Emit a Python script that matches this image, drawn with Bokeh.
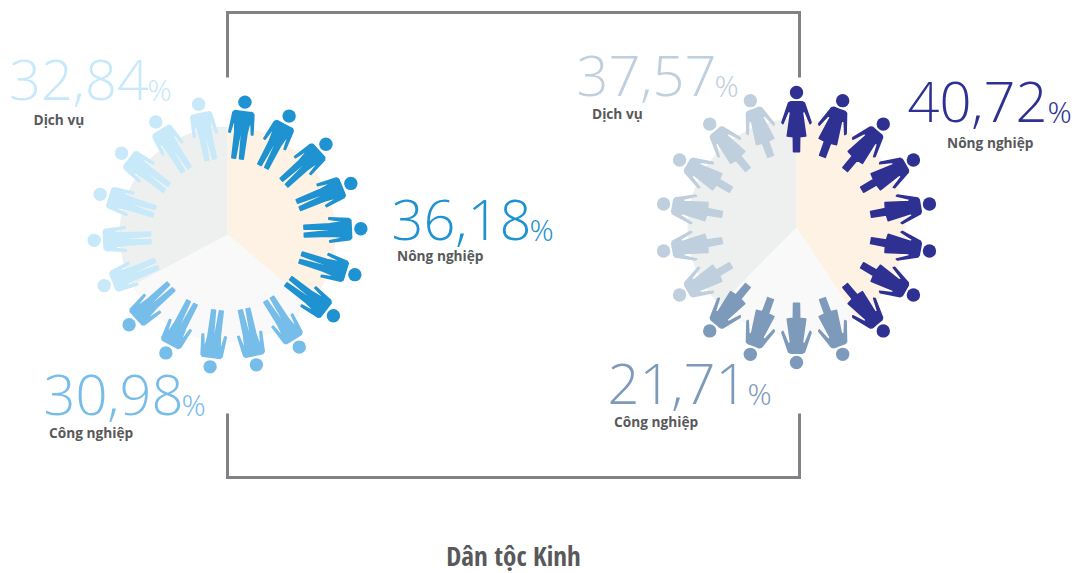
import math
from bokeh.plotting import figure
from bokeh.models import Range1d
from bokeh.core.properties import value
from bokeh.embed import file_html
from bokeh.resources import INLINE

# --- data ---
sectors = ["Nông nghiệp", "Công nghiệp", "Dịch vụ"]
kinh_left_values = [36.18, 30.98, 32.84]
kinh_right_values = [40.72, 21.71, 37.57]
left_icon_counts = [7, 5, 6]
right_icon_counts = [8, 4, 6]
title_text = "Dân tộc Kinh"

# --- style ---
LEFT_COLORS = ["#1f92d1", "#76bdea", "#c7e9fa"]
RIGHT_COLORS = ["#2e3192", "#7e9aba", "#bfcfde"]
PIE_COLORS = ["#fdf2e3", "#f9f9f9", "#eef0ef"]
LABEL_COLOR = "#58595b"
FRAME_COLOR = "#808285"
H = 573
NUM_FONT = "Open Sans Light"

MAN = [(0, 9.6), (8.8, 9.6), (10.6, 11.5), (12.2, 31.5), (10.7, 31.7), (8, 16), (6.2, 31),
       (5.8, 56.8), (2, 56.8), (0.7, 32)]
WOMAN = [(0, 9.3), (6, 9.3), (8, 10.5), (14.6, 30), (13.6, 31.2), (8.2, 18.5), (6, 20), (9.3, 43.5),
         (3.2, 44.3), (3, 59.3), (0, 59.3)]


def mirrored(half):
    right = list(half)
    left = [(-x, y) for x, y in reversed(half) if x != 0]
    return right + left


def person(template, cx, cy, r_head, ang):
    a = math.radians(ang)
    ux, uy = math.sin(a), math.cos(a)      # outward direction (y up)
    hx, hy = cx + r_head * ux, cy + r_head * uy
    px, py = uy, -ux
    xs, ys = [], []
    for lx, ly in mirrored(template):
        xs.append(hx + lx * px - ly * ux)
        ys.append(hy + lx * py - ly * uy)
    return hx, hy, xs, ys


p = figure(width=1075, height=573, x_range=Range1d(0, 1075), y_range=Range1d(0, 573),
           output_backend="svg", toolbar_location=None, min_border=0,
           background_fill_color=None, border_fill_color=None, outline_line_color=None)
p.axis.visible = False
p.grid.visible = False


def donut(cx_px, cy_px, radius, values, colors, counts, start_icon, template, r_head):
    cy = H - cy_px
    total = 0.0
    starts, ends = [], []
    for v in values:
        starts.append(90 - (total + v) * 3.6)
        ends.append(90 - total * 3.6)
        total += v
    p.wedge(x=[cx_px] * 3, y=[cy] * 3, radius=radius, start_angle=starts, end_angle=ends,
            start_angle_units="deg", end_angle_units="deg", fill_color=PIE_COLORS, line_color=None)
    ang = start_icon
    for n, c in zip(counts, colors):
        hxs, hys, xs, ys = [], [], [], []
        for _ in range(n):
            hx, hy, x, y = person(template, cx_px, cy, r_head, ang)
            hxs.append(hx); hys.append(hy); xs.append(x); ys.append(y)
            ang += 20
        p.patches(xs, ys, fill_color=c, line_color=c, line_width=1.5, line_join="round")
        p.circle(hxs, hys, radius=6.7, fill_color=c, line_color=None)


donut(227, 234, 108, kinh_left_values, LEFT_COLORS, left_icon_counts, 7.5, MAN, 133.5)
donut(796, 227, 109, kinh_right_values, RIGHT_COLORS, right_icon_counts, 0, WOMAN, 135)

# frame
for xs, ys in [([227, 227, 799, 799], [77, 12, 12, 77]), ([227, 227, 799, 799], [413, 477, 477, 413])]:
    p.line(xs, [H - y for y in ys], line_color=FRAME_COLOR, line_width=3, line_join="miter", line_cap="butt")


def fmt(v):
    return f"{v:.2f}".replace(".", ",")


def put(x, y, txt, font, size, color, style="normal", align="left"):
    p.text([x], [H - y + 0.37 * size], text=[txt], text_font=value(font), text_font_size=f"{size}px",
           text_font_style=style, text_color=color, text_baseline="alphabetic", text_align=align)


def pct(val, x, y, x2, color, sx, sy, name, size=56, pct_size=30):
    put(x, y, fmt(val), NUM_FONT, size, color)
    put(x2, y, "%", NUM_FONT, pct_size, color)
    put(sx, sy, name, "Open Sans", 13.7, LABEL_COLOR, style="bold")


pct(kinh_left_values[2], 8.5, 100, 147, LEFT_COLORS[2], 33, 124, sectors[2])
pct(kinh_left_values[0], 391, 240, 529, LEFT_COLORS[0], 396.5, 260, sectors[0])
pct(kinh_left_values[1], 43, 415, 181, LEFT_COLORS[1], 48.5, 437, sectors[1])
pct(kinh_right_values[2], 576, 96, 714, RIGHT_COLORS[2], 591.5, 118, sectors[2])
pct(kinh_right_values[0], 907, 122, 1047, RIGHT_COLORS[0], 946.5, 147, sectors[0])
pct(kinh_right_values[1], 607, 404, 747, RIGHT_COLORS[1], 613.5, 426, sectors[1])

put(513, 565, title_text, "Open Sans Condensed", 27, LABEL_COLOR, style="bold", align="center")

open("out.html", "w").write(file_html(p, INLINE))
